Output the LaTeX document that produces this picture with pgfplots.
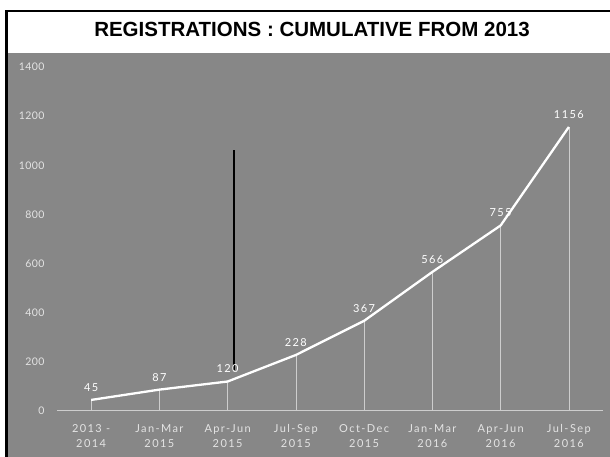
\documentclass[border=0pt]{standalone}
\usepackage{pgfplots}
\pgfplotsset{compat=1.18}
\usepackage{fontspec}
\setmainfont{Liberation Sans}
\newfontfamily\lbl[LetterSpace=13]{Lato}
\newfontfamily\ylbl[LetterSpace=4]{Lato}
\definecolor{bg}{RGB}{135,135,135}
\definecolor{tickc}{RGB}{228,228,228}
\definecolor{dropc}{RGB}{205,205,205}
\begin{document}
\begin{tikzpicture}[x=1pt,y=1pt]
\fill[white] (0,0) rectangle (610,457);
\fill[bg] (7,0) rectangle (610,404);
\fill[black] (5,0) rectangle (7.5,446.5);
\fill[black] (5,444.5) rectangle (610,446.5);
\node[font=\bfseries\fontsize{20.5}{24}\selectfont] at (312,428) {REGISTRATIONS : CUMULATIVE FROM 2013};
\begin{axis}[at={(57pt,46pt)}, anchor=south west, scale only axis,
  width=546pt, height=344pt,
  xmin=-0.5, xmax=7.5, ymin=0, ymax=1400,
  axis lines=left, axis line style={-},
  y axis line style={draw=none},
  x axis line style={draw=dropc, line width=1pt},
  major tick length=0pt,
  /pgf/number format/.cd, 1000 sep={}, assume math mode=true, /pgfplots/.cd,
  ytick={0,200,...,1400},
  yticklabel style={font=\ylbl\fontsize{10.5}{12}\selectfont, text=tickc, xshift=-9pt},
  xtick={0,...,7},
  xticklabels={{2013 -\\2014},{Jan-Mar\\2015},{Apr-Jun\\2015},{Jul-Sep\\2015},{Oct-Dec\\2015},{Jan-Mar\\2016},{Apr-Jun\\2016},{Jul-Sep\\2016}},
  xticklabel style={font=\lbl\fontsize{11}{15}\selectfont, text=tickc, align=center, yshift=-10pt},
  clip=false,
]
\addplot[dropc, line width=0.7pt, ycomb, forget plot] coordinates {(0,45) (1,87) (2,120) (3,228) (4,367) (5,566) (6,755) (7,1156)};
\addplot[white, line width=2.3pt, nodes near coords,
  nodes near coords style={font=\lbl\fontsize{11}{12}\selectfont, text=white, anchor=south, yshift=4pt}]
  coordinates {(0,45) (1,87) (2,120) (3,228) (4,367) (5,566) (6,755) (7,1156)};
\draw[black, line width=2.2pt] (axis cs:2.09,1062) -- (axis cs:2.09,167);
\end{axis}
\end{tikzpicture}
\end{document}
